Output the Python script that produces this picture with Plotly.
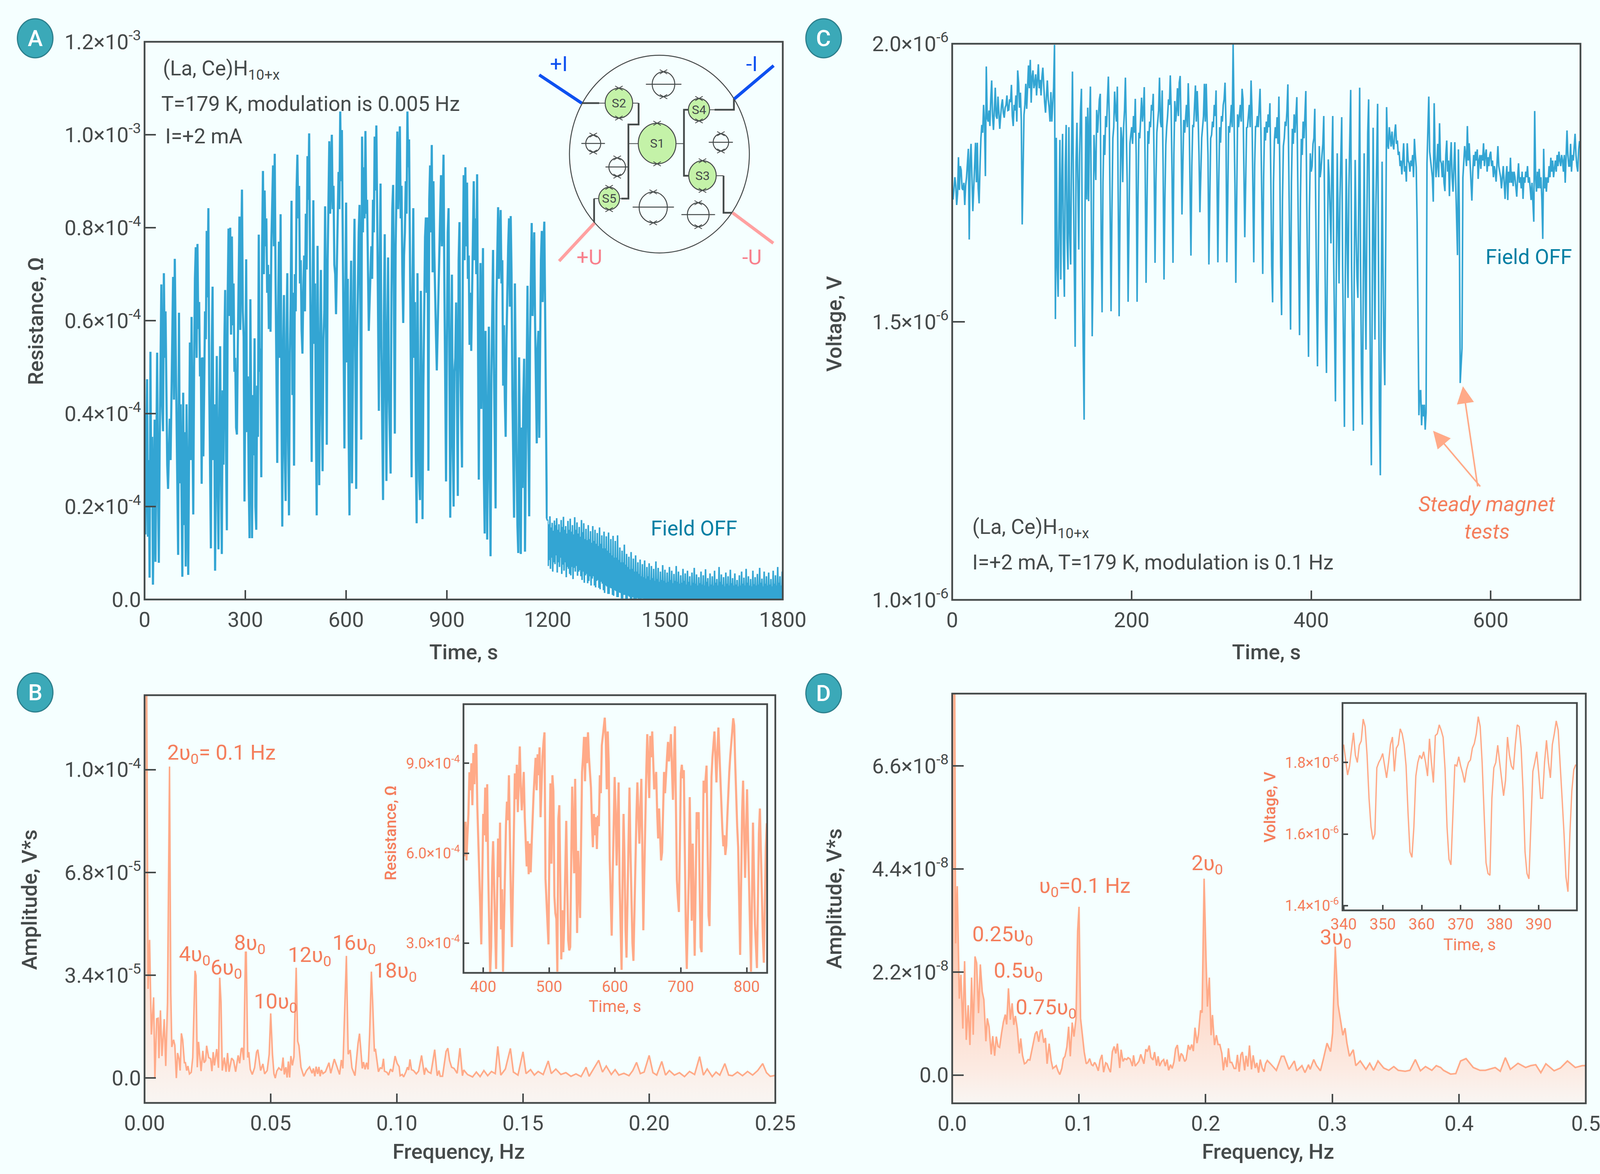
import numpy as np
import plotly.graph_objects as go

W, H = 4505, 3006
BG = "#F5FFFF"
DARK = "#454A4A"
BLUE = "#33A5D3"
TEAL = "#007FA3"
PEACH = "#FFAA88"
CORAL = "#F47E5C"

# panel A, field on: one reading every 2.5 s, 1e-4 ohm
a_step = 2.5
a_res = [
    4.0, 1.4, 3.2, 4.74, 1.35, 3.0, .47, 5.33, 2.0, 3.5, .32, 2.5, 3.87, .81, 3.2, 5.31, 2.4, .79, 3.3, 5.04,
    6.78, 4.2, 3.62, 7.02, 5.2, 6.2, 3.79, 2.9, 2.38, 3.2, 3.89, 3.0, 4.5, 5.6, 6.94, 4.3, 7.33, 5.6, 4.2, 2.2,
    .96, 6.17, 2.5, 4.2, 1.8, .49, 4.45, 1.6, 3.6, .71, 4.2, 2.1, .53, 3.1, 5.53, 3.0, 6.08, 3.6, 1.83, 5.0,
    6.9, 7.58, 5.2, 7.65, 5.82, 6.4, 4.8, 5.2, 2.49, 5.21, 3.08, 4.5, 6.2, 5.6, 7.93, 6.5, 8.42, 4.6, 2.4, 1.1,
    5.4, 6.73, 3.0, 4.2, .62, 3.7, 5.24, 2.6, 1.08, 3.8, 5.45, 2.7, .98, 4.5, 2.9, 5.5, 6.66, 3.2, 1.49, 6.5,
    7.98, 6.1, 8.0, 5.7, 7.81, 5.9, 6.8, 4.9, 5.2, 3.7, 3.55, 5.4, 7.2, 8.24, 5.8, 7.7, 8.82, 6.2, 5.65, 2.11,
    4.6, 7.32, 3.6, 4.8, 2.6, 1.32, 6.46, 2.8, 1.32, 4.4, 3.1, 5.62, 2.0, 1.5, 4.6, 3.5, 7.85, 4.9, 5.4, 2.63,
    7.6, 9.22, 7.0, 8.8, 7.6, 8.2, 6.6, 7.2, 5.82, 7.0, 5.76, 7.7, 8.4, 9.34, 7.6, 9.59, 6.9, 4.4, 2.94, 6.2,
    7.7, 5.2, 8.29, 4.3, 1.57, 5.3, 6.55, 3.1, 2.12, 5.7, 7.02, 3.4, 1.81, 5.3, 6.4, 8.58, 4.4, 6.6, 2.88, 7.0,
    6.2, 8.8, 9.57, 8.2, 8.9, 6.8, 7.3, 5.8, 5.29, 6.6, 7.4, 6.2, 8.3, 7.1, 9.54, 8.6, 10.03, 7.4, 5.6, 2.96,
    6.2, 8.59, 5.5, 6.8, 3.8, 1.81, 7.61, 3.9, 2.46, 5.2, 7.09, 4.2, 2.76, 5.6, 6.2, 8.46, 5.9, 3.33, 7.3, 8.6,
    9.86, 8.3, 9.3, 10.0, 8.4, 8.9, 7.2, 7.0, 6.14, 7.6, 8.2, 9.2, 8.4, 10.5, 9.0, 10.1, 8.0, 5.2, 3.25, 6.4,
    8.54, 5.1, 6.9, 3.6, 1.81, 6.0, 7.29, 2.5, 5.2, 6.8, 8.19, 4.0, 2.38, 5.4, 6.8, 7.9, 8.49, 6.4, 3.44, 9.96,
    7.9, 9.3, 8.2, 10.08, 8.3, 8.6, 6.6, 5.78, 6.4, 7.2, 7.6, 6.9, 8.6, 7.9, 9.96, 8.8, 10.2, 8.4, 6.4, 4.06,
    7.3, 8.95, 5.4, 3.8, 2.14, 6.1, 7.86, 4.6, 2.55, 5.7, 7.36, 4.4, 3.2, 2.71, 6.6, 8.4, 8.92, 6.3, 3.57, 7.6,
    8.6, 10.07, 8.4, 9.5, 10.18, 8.2, 8.9, 7.0, 5.95, 7.4, 7.9, 9.0, 8.3, 10.5, 9.3, 9.9, 7.6, 4.4, 2.63, 6.6,
    8.42, 5.2, 6.4, 3.1, 1.64, 7.02, 4.2, 2.6, 2.14, 6.64, 4.4, 1.73, 4.6, 6.9, 7.8, 8.22, 6.6, 8.22, 2.77, 8.6,
    9.34, 7.9, 9.78, 7.04, 9.0, 7.51, 6.4, 5.7, 4.93, 5.8, 6.8, 7.51, 8.2, 9.13, 7.6, 8.9, 9.57, 6.8, 4.74, 2.54,
    5.4, 7.9, 8.42, 4.6, 1.76, 5.1, 6.99, 3.3, 2.0, 4.9, 5.2, 6.39, 3.6, 2.23, 7.3, 8.12, 5.1, 4.2, 2.84, 7.2,
    9.13, 7.3, 9.3, 7.6, 8.97, 6.9, 7.4, 5.48, 6.6, 5.35, 6.4, 7.6, 9.0, 7.3, 8.2, 7.0, 9.15, 5.8, 2.58, 5.4,
    7.24, 4.1, 6.3, 7.56, 2.7, 1.42, 5.78, 3.2, 1.29, 4.0, 5.87, 2.7, .93, 4.8, 6.7, 7.52, 5.0, 3.4, 1.96, 6.4,
    7.2, 8.44, 6.9, 7.6, 8.38, 6.8, 7.3, 4.6, 5.9, 4.3, 3.5, 5.6, 6.9, 7.6, 8.2, 6.3, 8.25, 7.0, 4.4, 3.1,
    1.76, 6.8, 4.2, 2.9, 1.6, 1.0, 5.21, 2.8, .98, 3.7, 2.4, 4.3, 5.18, 1.03, 3.2, 4.6, 6.75, 3.6, 1.79, 5.6,
    7.2, 8.1, 6.1, 7.4, 7.9, 6.0, 4.6, 3.36, 5.4, 5.78, 3.48, 5.7, 7.3, 7.93, 6.4, 7.6, 8.13, 6.2, 3.79, 1.76,
    1.7,
]

# panel A, field off: readings over 1200-1800 s, 1e-4 ohm
a_off_res = [
    1.72, .72, 1.62, .85, 1.79, .66, 1.55, .9, 1.65, .60, 1.48, .8, 1.70, .76, 1.6, .95, 1.75, .58, 1.5, .8,
    1.62, .70, 1.45, .9, 1.71, .55, 1.56, .75, 1.78, .62, 1.5, .8, 1.58, .48, 1.42, .7, 1.69, .66, 1.5, .55,
    1.74, .52, 1.46, .7, 1.60, .44, 1.4, .68, 1.77, .60, 1.5, .72, 1.66, .51, 1.42, .6, 1.56, .63, 1.35, .5,
    1.71, .42, 1.45, .6, 1.64, .36, 1.3, .52, 1.52, .55, 1.28, .35, 1.60, .40, 1.3, .5, 1.47, .30, 1.22, .45,
    1.58, .50, 1.26, .3, 1.50, .26, 1.2, .4, 1.43, .42, 1.15, .25, 1.55, .22, 1.2, .38, 1.38, .34, 1.1, .2,
    1.46, .14, 1.1, .3, 1.36, .28, 1.05, .12, 1.44, .12, 1.0, .25, 1.30, .24, .95, .1, 1.37, .08, .9, .2,
    1.26, .18, .9, .05, 1.38, .05, .85, .15, 1.12, .14, .8, .02, 1.05, .02, .8, .1, 1.18, .10, .75, 0,
    .98, 0, .7, .08, .92, .06, .65, 0, 1.02, 0, .66, .05, .88, 0, .6, 0,
    .95, 0, .6, .03, .80, 0, .55, 0, .86, 0, .5, .02, .76, .02, .48, 0, .84, 0, .45, 0, .70, 0, .5, 0, .78, 0, .42, 0,
    .72, 0, .46, 0, .66, 0, .4, 0, .82, 0, .44, 0, .68, 0, .38, 0, .60, 0, .42, 0, .74, 0, .4, 0, .64, 0, .36, 0,
    .58, 0, .38, 0, .70, 0, .42, 0, .62, 0, .35, 0, .55, 0, .4, 0, .72, 0, .38, 0, .60, 0, .34, 0, .52, 0, .36, 0,
    .66, 0, .4, 0, .56, 0, .32, 0, .62, 0, .38, 0, .50, 0, .3, 0, .58, 0, .36, 0, .68, 0, .34, 0, .54, 0, .3, 0,
    .48, 0, .35, 0, .60, 0, .32, 0, .52, 0, .3, 0, .65, 0, .38, 0, .46, 0, .28, 0, .56, 0, .32, 0, .50, 0, .3, 0,
    .62, 0, .36, 0, .44, 0, .3, 0, .70, 0, .38, 0, .54, 0, .32, 0, .48, 0, .28, 0, .58, 0, .34, 0, .50, 0, .3, 0,
    .64, 0, .35, 0, .46, 0, .3, 0, .56, 0, .32, 0, .42, 0, .28, 0, .52, 0, .3, 0, .60, 0, .34, 0, .47, 0, .3, 0,
    .66, 0, .36, 0, .50, 0, .3, 0, .44, 0, .28, 0, .62, 0, .33, 0, .48, 0, .3, 0, .55, 0, .32, 0, .68, 0, .36, 0,
    .45, 0, .28, 0, .6, 0, .34, 0, .5, 0, .3, 0, .58, 0, .32, 0, .44, 0, .28, 0, .62, 0, .34, 0, .52, 0, .3, 0,
    .7, 0, .36, 0, .5, 0, .3, 0, .6, 0,
]

# panel C: one reading per second, 1e-6 V
c_volt = [
    1.737, 1.72, 1.74, 1.76, 1.745, 1.71, 1.73, 1.796, 1.737, 1.78,
    1.773, 1.74, 1.737, 1.75, 1.71, 1.745, 1.76, 1.79, 1.811, 1.648,
    1.79, 1.82, 1.76, 1.699, 1.74, 1.79, 1.822, 1.751, 1.822, 1.74,
    1.713, 1.78, 1.83, 1.854, 1.84, 1.89, 1.86, 1.762, 1.959, 1.867,
    1.86, 1.88, 1.852, 1.9, 1.934, 1.87, 1.845, 1.88, 1.921, 1.87,
    1.865, 1.905, 1.875, 1.847, 1.87, 1.89, 1.9, 1.875, 1.867, 1.885,
    1.89, 1.907, 1.88, 1.881, 1.9, 1.895, 1.926, 1.87, 1.852, 1.89,
    1.88, 1.907, 1.86, 1.952, 1.93, 1.885, 1.912, 1.863, 1.675, 1.8,
    1.872, 1.89, 1.928, 1.883, 1.93, 1.961, 1.92, 1.971, 1.894, 1.94,
    1.952, 1.92, 1.928, 1.945, 1.907, 1.93, 1.963, 1.92, 1.935, 1.907,
    1.94, 1.957, 1.92, 1.895, 1.876, 1.91, 1.934, 1.9, 1.885, 1.86,
    1.913, 1.86, 1.89, 1.921, 1.998, 1.505, 1.831, 1.6, 1.545, 1.72,
    1.827, 1.576, 1.75, 1.838, 1.62, 1.545, 1.78, 1.854, 1.65, 1.594,
    1.85, 1.66, 1.603, 1.8, 1.95, 1.76, 1.6, 1.455, 1.787, 1.858,
    1.75, 1.63, 1.8, 1.88, 1.919, 1.6, 1.45, 1.324, 1.7, 1.869,
    1.72, 1.885, 1.717, 1.86, 1.923, 1.7, 1.474, 1.6, 1.836, 1.79,
    1.755, 1.881, 1.84, 1.87, 1.9, 1.91, 1.65, 1.517, 1.75, 1.836,
    1.8, 1.87, 1.85, 1.9, 1.941, 1.87, 1.7, 1.519, 1.7, 1.83,
    1.85, 1.914, 1.88, 1.86, 1.923, 1.75, 1.51, 1.7, 1.85, 1.83,
    1.751, 1.85, 1.88, 1.939, 1.85, 1.75, 1.536, 1.68, 1.82, 1.836,
    1.85, 1.82, 1.87, 1.84, 1.901, 1.8, 1.536, 1.72, 1.84, 1.83,
    1.87, 1.903, 1.86, 1.88, 1.922, 1.78, 1.57, 1.7, 1.843, 1.82,
    1.86, 1.85, 1.89, 1.88, 1.91, 1.78, 1.606, 1.75, 1.84, 1.86,
    1.88, 1.939, 1.86, 1.85, 1.916, 1.78, 1.576, 1.72, 1.818, 1.85,
    1.87, 1.9, 1.89, 1.943, 1.88, 1.76, 1.606, 1.8, 1.897, 1.86,
    1.88, 1.92, 1.87, 1.93, 1.942, 1.85, 1.693, 1.78, 1.863, 1.84,
    1.87, 1.89, 1.85, 1.929, 1.87, 1.75, 1.619, 1.78, 1.854, 1.85,
    1.89, 1.925, 1.86, 1.915, 1.87, 1.8, 1.697, 1.76, 1.831, 1.85,
    1.87, 1.928, 1.86, 1.928, 1.85, 1.8, 1.603, 1.7, 1.83, 1.836,
    1.86, 1.85, 1.89, 1.87, 1.916, 1.77, 1.607, 1.75, 1.85, 1.822,
    1.87, 1.86, 1.89, 1.9, 1.93, 1.86, 1.607, 1.72, 1.852, 1.84,
    1.86, 1.89, 1.85, 1.999, 1.88, 1.75, 1.57, 1.7, 1.873, 1.85,
    1.87, 1.89, 1.86, 1.919, 1.9, 1.75, 1.652, 1.75, 1.849, 1.85,
    1.87, 1.89, 1.85, 1.934, 1.88, 1.74, 1.607, 1.78, 1.852, 1.85,
    1.87, 1.85, 1.89, 1.919, 1.84, 1.72, 1.586, 1.76, 1.85, 1.826,
    1.86, 1.84, 1.873, 1.85, 1.893, 1.76, 1.6, 1.535, 1.75, 1.826,
    1.85, 1.83, 1.868, 1.82, 1.905, 1.78, 1.6, 1.512, 1.72, 1.816,
    1.83, 1.86, 1.852, 1.88, 1.927, 1.78, 1.6, 1.486, 1.75, 1.847,
    1.82, 1.873, 1.84, 1.88, 1.904, 1.76, 1.6, 1.476, 1.72, 1.829,
    1.8, 1.86, 1.83, 1.88, 1.915, 1.72, 1.6, 1.437, 1.7, 1.803,
    1.77, 1.78, 1.82, 1.83, 1.883, 1.68, 1.55, 1.42, 1.65, 1.816,
    1.76, 1.775, 1.8, 1.82, 1.87, 1.66, 1.5, 1.408, 1.65, 1.792,
    1.76, 1.69, 1.641, 1.78, 1.87, 1.62, 1.46, 1.357, 1.6, 1.803,
    1.68, 1.569, 1.72, 1.8, 1.868, 1.6, 1.43, 1.311, 1.58, 1.793,
    1.65, 1.543, 1.74, 1.83, 1.917, 1.6, 1.42, 1.304, 1.6, 1.791,
    1.66, 1.58, 1.543, 1.78, 1.921, 1.6, 1.41, 1.315, 1.6, 1.803,
    1.6, 1.45, 1.68, 1.84, 1.9, 1.6, 1.38, 1.242, 1.62, 1.849,
    1.65, 1.468, 1.7, 1.82, 1.892, 1.6, 1.34, 1.224, 1.5, 1.788,
    1.6, 1.455, 1.386, 1.641, 1.886, 1.82, 1.811, 1.85, 1.83, 1.815,
    1.842, 1.82, 1.81, 1.84, 1.855, 1.82, 1.826, 1.8, 1.806, 1.78,
    1.79, 1.765, 1.79, 1.821, 1.77, 1.78, 1.752, 1.821, 1.79, 1.785,
    1.77, 1.79, 1.78, 1.8, 1.76, 1.829, 1.8, 1.778, 1.68, 1.507,
    1.332, 1.376, 1.376, 1.314, 1.351, 1.33, 1.351, 1.306, 1.337, 1.785,
    1.85, 1.905, 1.806, 1.79, 1.77, 1.76, 1.716, 1.893, 1.8, 1.76,
    1.78, 1.82, 1.76, 1.857, 1.79, 1.785, 1.76, 1.79, 1.75, 1.735,
    1.8, 1.826, 1.77, 1.79, 1.726, 1.79, 1.823, 1.76, 1.734, 1.78,
    1.823, 1.75, 1.695, 1.62, 1.81, 1.7, 1.39, 1.42, 1.452, 1.759,
    1.79, 1.816, 1.8, 1.78, 1.852, 1.79, 1.821, 1.79, 1.76, 1.718,
    1.77, 1.8, 1.78, 1.806, 1.79, 1.81, 1.757, 1.79, 1.8, 1.775,
    1.8, 1.79, 1.821, 1.78, 1.8, 1.81, 1.77, 1.796, 1.78, 1.8,
    1.806, 1.78, 1.79, 1.76, 1.78, 1.77, 1.752, 1.79, 1.816, 1.78,
    1.77, 1.76, 1.74, 1.76, 1.78, 1.75, 1.721, 1.76, 1.78, 1.719,
    1.77, 1.75, 1.795, 1.75, 1.77, 1.744, 1.77, 1.76, 1.74, 1.725,
    1.76, 1.785, 1.75, 1.76, 1.74, 1.77, 1.721, 1.76, 1.75, 1.77,
    1.76, 1.78, 1.75, 1.76, 1.74, 1.719, 1.75, 1.72, 1.68, 1.879,
    1.76, 1.734, 1.77, 1.74, 1.775, 1.74, 1.76, 1.72, 1.649, 1.811,
    1.74, 1.76, 1.734, 1.76, 1.75, 1.78, 1.76, 1.795, 1.77, 1.79,
    1.76, 1.775, 1.79, 1.77, 1.8, 1.78, 1.806, 1.79, 1.78, 1.8,
    1.79, 1.77, 1.8, 1.75, 1.8, 1.844, 1.8, 1.78, 1.78, 1.82,
    1.77, 1.8, 1.79, 1.81, 1.838, 1.8, 1.78, 1.77, 1.81, 1.825,
]

# panel B: frequency in Hz, amplitude in 1e-5
b_freq = [0, .0008, .0014, .002, .0027, .0036, .0041, .0048, .0054, .0057, .0063, .0069, .0078, .0084, .0091, .0099, .0104, .0108, .0115, .012, .0126, .0131, .0137, .0141, .0146, .0151, .0158, .0162, .0167, .0172, .0178, .0185, .0191, .02, .0204, .0209, .0214, .0224, .0231, .0236, .0242, .0246, .0254, .0262, .0267, .0272, .0277, .0286, .0293, .0298, .0303, .0308, .0316, .0323, .0329, .0335, .0345, .0353, .0361, .0371, .0377, .0383, .0387, .0393, .04, .0403, .0409, .0413, .0419, .0427, .0436, .0444, .0449, .046, .0469, .0476, .0486, .0494, .05, .0507, .0513, .0518, .0524, .0532, .0543, .0549, .0554, .056, .0565, .057, .0575, .058, .0586, .0592, .0601, .0607, .0612, .062, .0631, .0642, .0654, .0664, .0669, .0675, .068, .0686, .0691, .0696, .0701, .0707, .0717, .0723, .0731, .0738, .0752, .0767, .0773, .078, .0786, .08, .0807, .0815, .0822, .0834, .0846, .0852, .0863, .0868, .0874, .088, .0886, .0892, .0899, .0904, .0911, .0915, .0927, .0934, .0941, .0947, .0951, .0961, .0967, .0975, .0983, .0993, .1001, .1009, .1013, .1021, .1027, .1036, .1042, .1047, .1052, .1058, .1066, .1077, .1086, .1098, .1109, .1114, .1124, .1135, .115, .116, .1167, .1172, .1181, .1195, .1202, .1209, .1217, .1227, .1239, .125, .126, .1265, .128, .13, .1315, .133, .1345, .136, .1375, .139, .14, .1412, .143, .145, .1462, .148, .15, .1512, .153, .1545, .156, .158, .16, .1612, .163, .165, .167, .169, .171, .173, .175, .1762, .178, .18, .1815, .183, .185, .1865, .188, .19, .192, .1935, .195, .1965, .198, .2, .2015, .203, .205, .2065, .208, .21, .212, .214, .216, .218, .22, .2215, .223, .225, .2265, .228, .23, .2315, .233, .235, .237, .239, .241, .243, .245, .2465, .248, .25]
b_amp = [13.5, 13.5, 2.95, 4.57, 1.44, 2.67, 0, 1.96, 1.98, .66, 2.24, .73, 1.95, .4, 2.5, 10.3, 2.8, 1.03, 1.27, 1.09, 0, .83, .62, .25, 1.48, 1.27, .51, .51, .25, .4, .14, .19, .68, 3.55, 3.39, .36, 1.2, .23, .9, .51, .58, 1.07, .68, .64, .23, .86, .42, .96, .34, 3.32, 2.52, .25, .68, .21, .83, .21, .66, .58, .21, .75, .49, .96, 1.0, .6, 4.16, 4.16, .68, .86, .29, .12, .34, .86, .94, .25, .47, .14, .25, .79, 2.14, .79, .14, 0, .23, .34, .25, .68, .12, .36, .02, .55, .02, .73, .42, .7, 3.65, 1.22, 1.07, .36, .06, .25, .37, .16, .32, .06, .38, .14, .37, .06, .27, .15, .21, .34, .51, .16, .63, .27, .12, .6, .32, 4.04, .79, .93, .34, .08, 1.14, 1.47, .32, .53, .29, .51, .29, 1.44, 3.52, 2.52, .88, .97, .21, .34, .32, .64, .23, .19, .1, .3, .21, .73, .49, .38, .08, .12, .04, .21, .36, .27, .62, .28, .25, .14, .23, .75, .11, .34, .21, .16, .94, .08, .25, .06, .06, .88, .99, .58, .36, .32, .16, .99, .08, .27, .12, .04, .2, .05, .25, .08, .22, .15, 1.05, .1, .3, .98, .2, .1, .87, .15, .28, .1, .22, .12, .57, .15, .3, .12, .18, .06, .14, .05, .36, .06, .3, .59, .2, .4, .12, .28, .1, .16, .08, .25, .52, .15, .2, .75, .18, .1, .55, .1, .25, .1, .18, .05, .22, .12, .71, .1, .3, .05, .2, .1, .48, .1, .08, .2, .08, .22, .1, .25, .48, .18, .06, .09]

# inset of panel B: one reading every 1.5 s from 370 s, 1e-4 ohm
bi_start = 370
bi_step = 1.5
bi_res = [
    7.0, 5.9, 7.05, 5.76, 6.6, 7.3, 8.7, 8.1, 9.0, 7.6, 9.34, 8.3, 9.6, 9.62, 7.55, 6.2, 5.38, 4.16, 2.96, 5.68,
    7.31, 6.6, 8.19, 6.38, 8.3, 5.4, 3.81, 1.94, 2.9, 5.4, 6.4, 4.9, 3.2, 2.14, 4.4, 6.49, 5.2, 7.02, 3.46, 4.8,
    2.05, 3.81, 5.9, 6.93, 7.72, 7.1, 8.6, 6.08, 4.4, 2.87, 5.0, 6.49, 8.66, 7.8, 8.95, 7.37, 8.4, 9.56, 8.2, 7.43,
    8.0, 8.71, 7.2, 6.2, 5.56, 6.4, 5.3, 6.32, 5.36, 6.3, 7.31, 8.0, 8.6, 9.18, 8.1, 9.3, 8.6, 9.53, 7.2, 8.4,
    9.24, 9.7, 10.03, 5.15, 4.33, 3.4, 2.96, 6.2, 8.33, 5.65, 8.6, 8.07, 4.57, 4.0, 3.81, 2.05, 7.14, 7.6, 4.4, 2.46,
    4.1, 2.7, 3.69, 5.6, 7.08, 5.0, 3.11, 2.76, 2.87, 5.6, 8.22, 6.7, 5.33, 8.48, 6.0, 3.34, 6.08, 4.8, 3.84, 6.3,
    8.71, 9.2, 9.88, 8.4, 9.88, 9.0, 10.03, 9.2, 8.71, 8.19, 7.0, 6.2, 7.31, 6.6, 7.2, 6.14, 7.25, 6.9, 8.6, 8.0,
    9.59, 9.9, 10.29, 10.52, 9.8, 8.13, 10.06, 9.0, 5.79, 4.1, 3.25, 5.2, 6.9, 8.54, 7.4, 5.59, 7.0, 8.36, 5.0, 3.2,
    2.11, 5.12, 7.31, 5.8, 3.46, 2.52, 4.6, 6.73, 8.19, 6.1, 4.33, 3.0, 2.41, 4.2, 5.73, 7.2, 8.36, 7.4, 6.32, 7.5,
    8.48, 6.2, 3.43, 5.3, 7.31, 8.7, 9.97, 8.6, 7.84, 9.91, 9.2, 10.06, 9.0, 8.13, 8.4, 8.71, 7.4, 6.49, 7.49, 6.6,
    5.76, 6.03, 7.4, 8.71, 8.0, 8.71, 9.2, 9.71, 9.06, 9.5, 9.97, 8.8, 7.78, 9.1, 10.23, 7.6, 5.09, 4.5, 4.04, 6.2,
    8.66, 8.95, 8.5, 8.77, 6.0, 3.52, 2.14, 3.8, 5.21, 7.87, 5.5, 3.75, 6.32, 4.4, 2.58, 5.0, 7.37, 6.8, 7.37, 5.0,
    2.87, 2.7, 5.6, 8.42, 8.01, 8.6, 8.92, 6.4, 3.92, 3.57, 6.0, 8.54, 9.2, 9.59, 10.06, 9.2, 8.36, 9.4, 10.19, 9.36,
    8.4, 7.43, 6.8, 6.23, 6.6, 5.94, 6.26, 7.2, 8.19, 8.7, 9.24, 9.8, 10.06, 10.5, 10.26, 9.0, 7.69, 6.9, 6.2, 4.4,
    2.61, 5.0, 7.37, 8.42, 6.8, 5.18, 6.6, 8.13, 6.5, 4.92, 3.4, 2.05, 4.5, 7.02, 5.3, 3.63, 2.9, 2.17, 4.4, 6.67,
    7.49, 5.8, 4.04, 3.2, 2.35, 4.6, 6.2, 7.0,
]

# panel D: frequency in Hz, amplitude in 1e-8
d_freq = [0, .0008, .0019, .0027, .004, .0056, .0069, .0084, .0098, .0111, .0126, .014, .0153, .0166, .018, .0193, .0208, .0222, .0237, .025, .0266, .0277, .0291, .0308, .032, .0335, .0348, .0362, .0374, .039, .0404, .0419, .043, .0444, .0459, .0473, .0486, .0499, .0514, .053, .0541, .0555, .057, .0583, .0599, .0613, .0626, .0642, .0655, .0668, .0683, .0696, .0708, .0723, .0736, .0749, .0765, .0781, .0794, .0808, .0821, .0836, .0849, .0865, .0877, .089, .0905, .0919, .0932, .0947, .0961, .0977, .099, .1001, .1013, .1026, .1042, .1058, .1071, .1085, .11, .1111, .1124, .1135, .1153, .1167, .1182, .1195, .1211, .1222, .1235, .1249, .1264, .1278, .1291, .1304, .1322, .1333, .1348, .1361, .1377, .1388, .1404, .1422, .1431, .1444, .146, .1473, .1488, .1513, .1528, .1541, .1555, .1568, .1585, .1597, .1613, .1625, .1637, .1653, .1669, .1681, .1696, .1708, .1723, .1736, .175, .1763, .1777, .1793, .1806, .1819, .1835, .1846, .1863, .1876, .189, .1903, .1916, .1932, .1943, .196, .1972, .1988, .2003, .2014, .2029, .2043, .2054, .207, .2085, .2098, .2112, .2128, .214, .2154, .2169, .218, .2193, .2206, .2225, .2238, .2251, .2265, .2278, .229, .2308, .2319, .2333, .2346, .2362, .2375, .2391, .2404, .2418, .2431, .2446, .2461, .2473, .2487, .2512, .2558, .2598, .2619, .2658, .27, .2719, .276, .2784, .2812, .2825, .2853, .2875, .2906, .293, .2958, .2986, .3002, .3023, .3045, .3083, .31, .3115, .3135, .3165, .3185, .322, .3265, .3295, .3325, .336, .3405, .3445, .3485, .352, .3575, .3612, .3655, .3695, .3735, .3785, .382, .3855, .3877, .3933, .3974, .4012, .4055, .4112, .4165, .4208, .4285, .4325, .4365, .4405, .4465, .4525, .4565, .4605, .4645, .4685, .475, .48, .4855, .4917, .4972, .5]
d_amp = [9, 9, 9, 2.81, 4.03, 1.63, 2.14, .99, 2.43, .75, 1.49, .64, 2.08, .86, 2.53, 2.39, 1.32, 2.36, 1.78, 1.61, .72, 1.21, 1.03, .44, .83, .41, .82, .61, .59, .9, 1.13, 1.29, 1.08, 1.85, 1.18, 1.53, 1.07, 1.26, .99, .46, .78, .42, .24, .26, .33, .32, .49, .69, .88, .93, .71, .94, .96, .69, .79, .24, .67, .31, .14, .17, .2, .08, .01, .14, .35, .4, .6, 1.03, .4, 1.12, .82, 1.21, 3.07, 3.59, 1.21, .89, .49, .24, .27, .35, .22, .2, .27, .22, .09, .32, .43, .06, .26, .24, .14, .06, .5, .61, .46, .67, .15, .54, .29, .35, .33, .37, .34, .19, .42, .19, .25, .29, .44, .24, .55, .5, .63, .38, .32, .49, .2, .4, .19, .29, .33, .19, .33, .1, .22, .14, .28, .56, .64, .29, .46, .42, .29, .33, .64, .54, .65, .51, 1.01, .68, .86, 1.38, 1.33, 4.19, 2.5, 1.46, 2.08, .85, 1.28, .64, .85, .65, .65, .46, .1, .38, .17, .57, .27, .27, .14, .14, .43, .07, .43, .49, .1, .41, .18, .63, .12, .42, .15, .26, .05, .33, .15, .07, .24, .31, .24, .1, .4, .4, .12, .3, .09, .2, .05, .22, .12, .33, .2, .09, .35, .68, .5, .89, 2.74, 1.5, .85, 1.0, .68, .4, .54, .2, .3, .12, .25, .1, .3, .15, .1, .18, .1, .08, .1, .33, .09, .18, .1, .2, .16, .1, .02, .03, .3, .35, .16, .1, .1, .16, .08, .37, .12, .25, .16, .2, .22, .05, .24, .09, .15, .3, .16, .2, .2, .68, .37]

# inset of panel D: one reading every 0.5 s from 340 s, 1e-6 V
di_start = 340
di_step = 0.5
di_volt = [
    1.85, 1.81, 1.765, 1.79, 1.84, 1.883, 1.82, 1.80, 1.848, 1.86,
    1.921, 1.90, 1.82, 1.70, 1.62, 1.585, 1.60, 1.785, 1.80, 1.81,
    1.825, 1.79, 1.757, 1.80, 1.85, 1.871, 1.775, 1.84, 1.85, 1.894,
    1.88, 1.85, 1.79, 1.66, 1.55, 1.535, 1.62, 1.762, 1.80, 1.82,
    1.81, 1.83, 1.80, 1.762, 1.866, 1.80, 1.744, 1.875, 1.88, 1.905,
    1.89, 1.87, 1.78, 1.62, 1.53, 1.514, 1.66, 1.794, 1.79, 1.816,
    1.79, 1.77, 1.744, 1.78, 1.80, 1.807, 1.84, 1.853, 1.88, 1.928,
    1.90, 1.80, 1.66, 1.52, 1.49, 1.485, 1.70, 1.785, 1.80, 1.848,
    1.80, 1.75, 1.707, 1.75, 1.871, 1.82, 1.79, 1.78, 1.85, 1.905,
    1.90, 1.84, 1.72, 1.55, 1.49, 1.475, 1.62, 1.775, 1.80, 1.83,
    1.77, 1.70, 1.70, 1.80, 1.862, 1.80, 1.757, 1.85, 1.88, 1.916,
    1.89, 1.80, 1.70, 1.60, 1.48, 1.439, 1.60, 1.721, 1.78, 1.794,
]

BOTTOM_B = -8.2e-6
BOTTOM_D = -6.04e-9


def px(x):
    return x / W


def py(y):
    return 1 - y / H


def x_axis(x0, x1, anchor, rng, ticks, labels, size=54, color=DARK, ticklen=24, standoff=15):
    return dict(
        domain=[px(x0), px(x1)], anchor=anchor, range=rng, tickmode="array", tickvals=ticks, ticktext=labels,
        ticks="inside", ticklen=ticklen, tickwidth=4, tickcolor=DARK, showgrid=False, zeroline=False, showline=False,
        tickfont=dict(family="Roboto", size=size, color=color), ticklabelstandoff=standoff, ticklabeloverflow="allow",
    )


def y_axis(y0, y1, anchor, rng, ticks, labels, size=54, color=DARK, ticklen=29, standoff=8):
    return dict(
        domain=[py(y1), py(y0)], anchor=anchor, range=rng, tickmode="array", tickvals=ticks, ticktext=labels,
        ticks="inside", ticklen=ticklen, tickwidth=4, tickcolor=DARK, showgrid=False, zeroline=False, showline=False,
        tickfont=dict(family="Roboto", size=size, color=color), ticklabelstandoff=standoff,
    )


annotations = []
shapes = []


def label(x, y, text, color=DARK, size=53, anchor="left", angle=0, weight=400, style="normal"):
    annotations.append(dict(
        x=px(x), y=py(y), xref="paper", yref="paper", text=text, showarrow=False, xanchor=anchor, yanchor="middle",
        textangle=angle, font=dict(family="Roboto", size=size, color=color, weight=weight, style=style),
    ))


def frame(x0, y0, x1, y1):
    shapes.append(dict(type="rect", xref="paper", yref="paper", x0=px(x0), x1=px(x1), y0=py(y0), y1=py(y1),
                       line=dict(color=DARK, width=4.5)))


def badge(x, y, letter):
    shapes.append(dict(type="circle", xref="paper", yref="paper", x0=px(x - 50), x1=px(x + 50), y0=py(y - 50),
                       y1=py(y + 50), fillcolor="#3BA9B8", line=dict(color="#2C7F8C", width=3)))
    label(x, y, letter, color="white", size=58, anchor="center", weight=500)


# schematic in panel A is placed in its own pixel frame
def sx(v):
    return px(1480 + v * 0.4783)


def sy(v):
    return py(100 + v * 0.3954)


def wire(points, width=4, color=DARK):
    path = "M " + " L ".join(f"{sx(a)} {sy(b)}" for a, b in points)
    shapes.append(dict(type="path", xref="paper", yref="paper", path=path, line=dict(color=color, width=width)))


def ellipse(a0, a1, b0, b1, fill=None, width=2.5):
    shapes.append(dict(type="circle", xref="paper", yref="paper", x0=sx(a0), x1=sx(a1), y0=sy(b0), y1=sy(b1),
                       fillcolor=fill if fill else "rgba(0,0,0,0)", line=dict(color=DARK, width=width)))
    mid = (a0 + a1) / 2
    for b in (b0, b1):
        wire([(mid - 22, b - 14), (mid + 22, b + 14)], 2)
        wire([(mid - 22, b + 14), (mid + 22, b - 14)], 2)


def draw_schematic():
    outer = dict(type="circle", xref="paper", yref="paper", x0=sx(258), x1=sx(1317), y0=sy(105), y1=sy(1385),
                 line=dict(color=DARK, width=2.5))
    shapes.append(outer)
    for a0, a1, b0, b1, a2, a3, b in [
        (745, 878, 212, 373, 708, 917, 293),
        (354, 442, 622, 732, 328, 467, 676),
        (1104, 1195, 613, 725, 1078, 1220, 668),
        (490, 588, 770, 888, 470, 605, 828),
        (668, 834, 990, 1190, 630, 873, 1088),
        (952, 1080, 1060, 1215, 917, 1115, 1137),
    ]:
        ellipse(a0, a1, b0, b1)
        wire([(a2, b), (a3, b)], 2.5)
    for a, b in [
        ([(433, 415), (468, 415)], 2), ([(630, 415), (665, 415)], 2), ([(553, 1033), (563, 1033)], 2),
        ([(605, 677), (663, 677)], 2), ([(885, 677), (932, 677)], 2), ([(1083, 458), (1112, 458)], 2),
        ([(1122, 885), (1165, 885)], 2), ([(430, 1033), (403, 1033)], 2),
        ([(330, 415), (433, 415)], 4.5), ([(665, 415), (665, 553), (605, 553), (605, 1033), (563, 1033)], 4.5),
        ([(958, 458), (932, 458), (932, 885), (960, 885)], 4.5), ([(1112, 458), (1226, 458), (1226, 385)], 4.5),
        ([(1165, 885), (1165, 1125), (1215, 1125)], 4.5), ([(403, 1033), (403, 1190)], 4.5),
    ]:
        wire(a, b)
    wire([(80, 232), (330, 415)], 8, "#0D50F0")
    wire([(1460, 172), (1228, 388)], 8, "#0D50F0")
    wire([(405, 1192), (197, 1438)], 8, "#FFA0A0")
    wire([(1218, 1125), (1458, 1322)], 8, "#FFA0A0")
    for a0, a1, b0, b1, name in [
        (663, 885, 545, 808, "S1"), (468, 630, 318, 512, "S2"), (960, 1122, 788, 980, "S3"),
        (958, 1083, 385, 530, "S4"), (430, 553, 960, 1105, "S5"),
    ]:
        ellipse(a0, a1, b0, b1, fill="#C4F2A8")
        label(1480 + (a0 + a1) / 2 * 0.4783, 100 + (b0 + b1) / 2 * 0.3954, name, size=32, anchor="center")
    for a, b, text, color in [
        (195, 160, "+I", "#0D50F0"), (1333, 160, "-I", "#0D50F0"), (375, 1412, "+U", "#F8808C"), (1333, 1412, "-U", "#F8808C"),
    ]:
        label(1480 + a * 0.4783, 100 + b * 0.3954, text, color=color, size=54, anchor="center")


fig = go.Figure()

fig.add_trace(go.Scatter(x=np.arange(len(a_res)) * a_step, y=np.array(a_res) * 1e-4, mode="lines",
                         line=dict(color=BLUE, width=5.5), xaxis="x", yaxis="y", showlegend=False))
fig.add_trace(go.Scatter(x=np.linspace(1200, 1800, len(a_off_res)), y=np.array(a_off_res) * 1e-4, mode="lines",
                         line=dict(color=BLUE, width=4), xaxis="x2", yaxis="y2", showlegend=False))
fig.add_trace(go.Scatter(x=np.arange(len(c_volt)), y=np.array(c_volt) * 1e-6, mode="lines",
                         line=dict(color=BLUE, width=4), xaxis="x3", yaxis="y3", showlegend=False))

fade = [[0, "#F9F5F2"], [0.15, "#FCEBE3"], [1, "#FFBFA3"]]
for freq, amp, scale, bottom, ax, top in [
    (b_freq, b_amp, 1e-5, BOTTOM_B, "4", 1.05e-4),
    (d_freq, d_amp, 1e-8, BOTTOM_D, "6", 3.6e-8),
]:
    fig.add_trace(go.Scatter(x=[freq[0], freq[-1]], y=[bottom, bottom], mode="lines", line=dict(width=0),
                             xaxis="x" + ax, yaxis="y" + ax, showlegend=False))
    fig.add_trace(go.Scatter(x=freq, y=np.array(amp) * scale, mode="lines", line=dict(color=PEACH, width=4),
                             fill="tonexty", fillgradient=dict(type="vertical", colorscale=fade, start=bottom, stop=top),
                             xaxis="x" + ax, yaxis="y" + ax, showlegend=False))

fig.add_trace(go.Scatter(x=bi_start + np.arange(len(bi_res)) * bi_step, y=np.array(bi_res) * 1e-4, mode="lines",
                         line=dict(color=PEACH, width=5.5), xaxis="x5", yaxis="y5", showlegend=False))
fig.add_trace(go.Scatter(x=di_start + np.arange(len(di_volt)) * di_step, y=np.array(di_volt) * 1e-6, mode="lines",
                         line=dict(color=PEACH, width=3.5), xaxis="x7", yaxis="y7", showlegend=False))

a_ticks = [0, 2e-4, 4e-4, 6e-4, 8e-4, 1e-3, 1.2e-3]
a_labels = ["0.0", "0.2×10<sup>-4</sup>", "0.4×10<sup>-4</sup>", "0.6×10<sup>-4</sup>", "0.8×10<sup>-4</sup>",
            "1.0×10<sup>-3</sup>", "1.2×10<sup>-3</sup>"]

layout_axes = dict(
    xaxis=x_axis(407, 1542, "y", [0, 1200], [0, 300, 600, 900, 1200], ["0", "300", "600", "900", "1200"]),
    yaxis=y_axis(107, 1535, "x", [0, 1.2e-3], a_ticks, a_labels),
    xaxis2=x_axis(1542, 2204, "y2", [1200, 1800], [1500, 1800], ["1500", "1800"], ticklen=0),
    yaxis2=dict(domain=[py(1535), py(107)], anchor="x2", range=[0, 1.2e-3], visible=False),
    xaxis3=x_axis(2681, 4450, "y3", [0, 700], [0, 200, 400, 600], ["0", "200", "400", "600"]),
    yaxis3=y_axis(112, 1536, "x3", [1e-6, 2e-6], [1e-6, 1.5e-6, 2e-6],
                  ["1.0×10<sup>-6</sup>", "1.5×10<sup>-6</sup>", "2.0×10<sup>-6</sup>"], ticklen=32),
    xaxis4=x_axis(407, 2183, "y4", [0, 0.25], [0, 0.05, 0.1, 0.15, 0.2, 0.25], ["0.00", "0.05", "0.10", "0.15", "0.20", "0.25"]),
    yaxis4=y_axis(1780, 2824, "x4", [BOTTOM_B, 1.266e-4], [0, 3.4e-5, 6.8e-5, 1.02e-4],
                  ["0.0", "3.4×10<sup>-5</sup>", "6.8×10<sup>-5</sup>", "1.0×10<sup>-4</sup>"]),
    xaxis5=x_axis(1305, 2160, "y5", [370, 831], [400, 500, 600, 700, 800], ["400", "500", "600", "700", "800"],
                  size=40, color=CORAL, ticklen=14, standoff=8),
    yaxis5=y_axis(1803, 2491, "x5", [2.01e-4, 10.97e-4], [3e-4, 6e-4, 9e-4],
                  ["3.0×10<sup>-4</sup>", "6.0×10<sup>-4</sup>", "9.0×10<sup>-4</sup>"], size=38, color=CORAL, ticklen=14),
    xaxis6=x_axis(2681, 4465, "y6", [0, 0.5], [0, 0.1, 0.2, 0.3, 0.4, 0.5], ["0.0", "0.1", "0.2", "0.3", "0.4", "0.5"]),
    yaxis6=y_axis(1776, 2825, "x6", [BOTTOM_D, 8.14e-8], [0, 2.2e-8, 4.4e-8, 6.6e-8],
                  ["0.0", "2.2×10<sup>-8</sup>", "4.4×10<sup>-8</sup>", "6.6×10<sup>-8</sup>"]),
    xaxis7=x_axis(3780, 4440, "y7", [339.7, 399.8], [340, 350, 360, 370, 380, 390], ["340", "350", "360", "370", "380", "390"],
                  size=40, color=CORAL, ticklen=14, standoff=8),
    yaxis7=y_axis(1800, 2331, "x7", [1.387e-6, 1.966e-6], [1.4e-6, 1.6e-6, 1.8e-6],
                  ["1.4×10<sup>-6</sup>", "1.6×10<sup>-6</sup>", "1.8×10<sup>-6</sup>"], size=38, color=CORAL, ticklen=14),
)

for box in [(407, 107, 2204, 1535), (2681, 112, 4450, 1536), (407, 1780, 2183, 2824), (2681, 1776, 4465, 2825),
            (1305, 1803, 2160, 2491), (3780, 1800, 4440, 2331)]:
    frame(*box)

badge(99, 98, "A")
badge(99, 1773, "B")
badge(2319, 98, "C")
badge(2319, 1775, "D")
draw_schematic()

label(100, 822, "Resistance, Ω", size=54, anchor="center", angle=-90, weight=500)
label(1306, 1669, "Time, s", size=54, anchor="center", weight=500)
label(2348, 829, "Voltage, V", size=54, anchor="center", angle=-90, weight=500)
label(3566, 1669, "Time, s", size=54, anchor="center", weight=500)
label(82, 2304, "Amplitude, V*s", size=54, anchor="center", angle=-90, weight=500)
label(1291, 2948, "Frequency, Hz", size=54, anchor="center", weight=500)
label(2348, 2301, "Amplitude, V*s", size=54, anchor="center", angle=-90, weight=500)
label(3570, 2948, "Frequency, Hz", size=54, anchor="center", weight=500)

label(456, 178, "(La, Ce)H<sub>10+x</sub>")
label(452, 266, "T=179 K, modulation is 0.005 Hz")
label(463, 349, "I=+2 mA")
label(1830, 1353, "Field OFF", color=TEAL)
label(4180, 658, "Field OFF", color=TEAL)
label(2735, 1352, "(La, Ce)H<sub>10+x</sub>")
label(2735, 1440, "I=+2 mA, T=179 K, modulation is 0.1 Hz")
label(4187, 1290, "Steady magnet", color=CORAL, size=54, anchor="center", style="italic")
label(4187, 1360, "tests", color=CORAL, size=54, anchor="center", style="italic")

for tip_x, tip_y in [(4035, 1103), (4119, 989)]:
    annotations.append(dict(
        x=px(tip_x), y=py(tip_y), xref="paper", yref="paper", ax=4157 - tip_x, ay=1247 - tip_y, axref="pixel", ayref="pixel",
        text="", showarrow=True, arrowhead=2, arrowsize=2.2, arrowwidth=4, arrowcolor=PEACH,
    ))

for x, y, text in [
    (468, 1930, "2υ<sub>0</sub>= 0.1 Hz"), (502, 2446, "4υ<sub>0</sub>"), (591, 2480, "6υ<sub>0</sub>"),
    (657, 2417, "8υ<sub>0</sub>"), (713, 2567, "10υ<sub>0</sub>"), (808, 2448, "12υ<sub>0</sub>"),
    (934, 2417, "16υ<sub>0</sub>"), (1049, 2488, "18υ<sub>0</sub>"),
    (2923, 2271, "υ<sub>0</sub>=0.1 Hz"), (3352, 2213, "2υ<sub>0</sub>"), (2735, 2395, "0.25υ<sub>0</sub>"),
    (2796, 2488, "0.5υ<sub>0</sub>"), (2857, 2582, "0.75υ<sub>0</sub>"), (3714, 2403, "3υ<sub>0</sub>"),
]:
    label(x, y, text, color=CORAL, size=54)

label(1732, 2576, "Time, s", color=CORAL, size=42, anchor="center")
label(1100, 2133, "Resistance, Ω", color=CORAL, size=40, anchor="center", angle=-90, weight=500)
label(4138, 2418, "Time, s", color=CORAL, size=42, anchor="center")
label(3576, 2066, "Voltage, V", color=CORAL, size=40, anchor="center", angle=-90, weight=500)

fig.update_layout(
    autosize=True, margin=dict(l=0, r=0, t=0, b=0, autoexpand=False), paper_bgcolor=BG, plot_bgcolor=BG,
    showlegend=False, font=dict(family="Roboto"), annotations=annotations, shapes=shapes, **layout_axes,
)

# the page keeps the browser's default body margin unless it is dropped
full_page = (
    f"document.body.style.margin='0';document.body.style.background='{BG}';"
    f"document.documentElement.style.background='{BG}';"
    "Plotly.Plots.resize(document.getElementById('{plot_id}'));"
)
fig.write_html("out.html", config={"displayModeBar": False}, post_script=full_page)
